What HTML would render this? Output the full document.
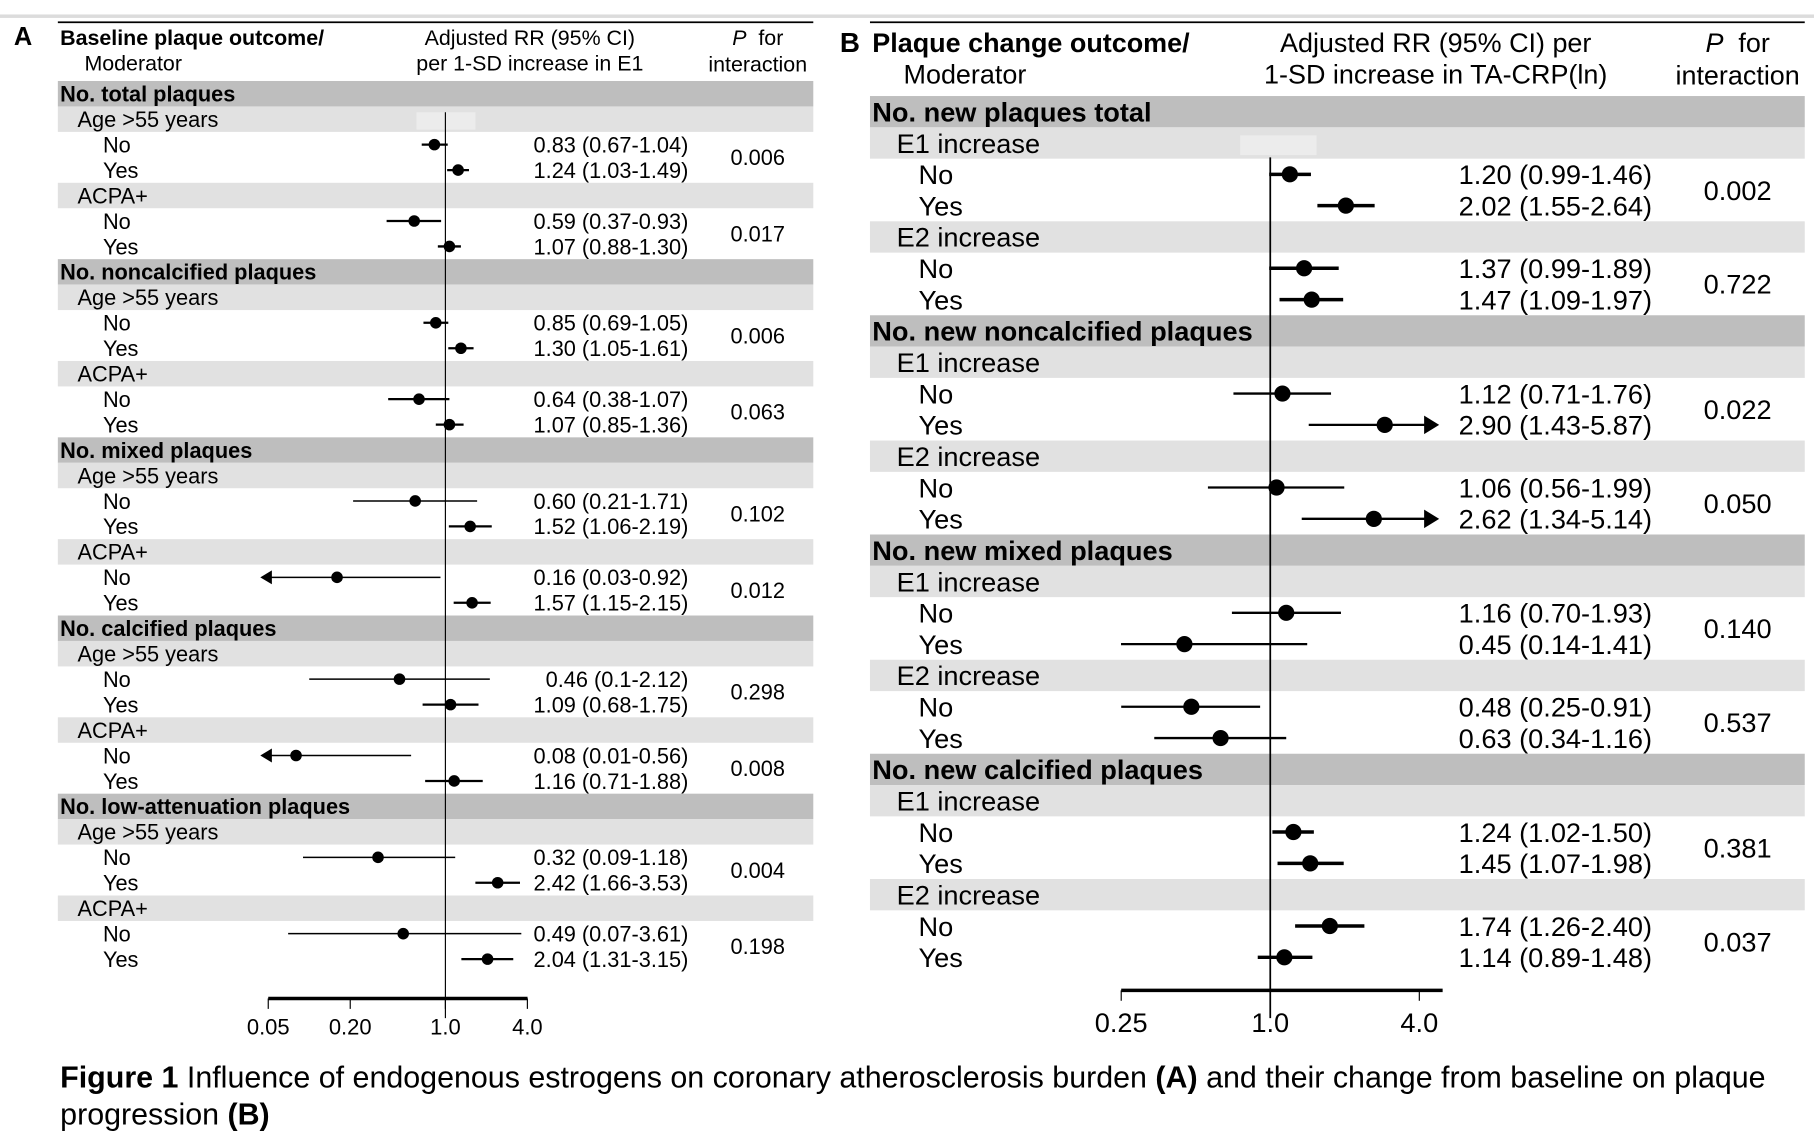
<!DOCTYPE html>
<html><head><meta charset="utf-8">
<style>
html,body{margin:0;padding:0;background:#fff;width:1814px;height:1138px;overflow:hidden}
svg{display:block}
text{font-family:"Liberation Sans",Arial,sans-serif;fill:#000}
</style></head>
<body>
<svg id="fig" width="1814" height="1138" viewBox="0 0 1568 983.6" preserveAspectRatio="none" xmlns="http://www.w3.org/2000/svg">
<rect x="0" y="12.5" width="1568" height="3" fill="#dcdcdc"/>
<g id="panelA"></g>
<g id="panelB"></g>
<text x="52" y="940" font-size="26.3"><tspan font-weight="bold">Figure 1</tspan> Influence of endogenous estrogens on coronary atherosclerosis burden <tspan font-weight="bold">(A)</tspan> and their change from baseline on plaque</text>
<text x="52" y="972" font-size="26.3">progression <tspan font-weight="bold">(B)</tspan></text>
</svg>
<script>
// ---- Panel A data ----
const sectionsA = ["No. total plaques","No. noncalcified plaques","No. mixed plaques","No. calcified plaques","No. low-attenuation plaques"];
const moderatorsA = ["Age >55 years","ACPA+"];
const estA = [0.83,1.24,0.59,1.07, 0.85,1.30,0.64,1.07, 0.60,1.52,0.16,1.57, 0.46,1.09,0.08,1.16, 0.32,2.42,0.49,2.04];
const loA  = [0.67,1.03,0.37,0.88, 0.69,1.05,0.38,0.85, 0.21,1.06,0.03,1.15, 0.10,0.68,0.01,0.71, 0.09,1.66,0.07,1.31];
const hiA  = [1.04,1.49,0.93,1.30, 1.05,1.61,1.07,1.36, 1.71,2.19,0.92,2.15, 2.12,1.75,0.56,1.88, 1.18,3.53,3.61,3.15];
const labelsA = ["0.83 (0.67-1.04)","1.24 (1.03-1.49)","0.59 (0.37-0.93)","1.07 (0.88-1.30)","0.85 (0.69-1.05)","1.30 (1.05-1.61)","0.64 (0.38-1.07)","1.07 (0.85-1.36)","0.60 (0.21-1.71)","1.52 (1.06-2.19)","0.16 (0.03-0.92)","1.57 (1.15-2.15)","0.46 (0.1-2.12)","1.09 (0.68-1.75)","0.08 (0.01-0.56)","1.16 (0.71-1.88)","0.32 (0.09-1.18)","2.42 (1.66-3.53)","0.49 (0.07-3.61)","2.04 (1.31-3.15)"];
const pA = ["0.006","0.017","0.006","0.063","0.102","0.012","0.298","0.008","0.004","0.198"];
const ticksA = [0.05,0.20,1.0,4.0];
const tickLabelsA = ["0.05","0.20","1.0","4.0"];
// ---- Panel B data ----
const sectionsB = ["No. new plaques total","No. new noncalcified plaques","No. new mixed plaques","No. new calcified plaques"];
const moderatorsB = ["E1 increase","E2 increase"];
const estB = [1.20,2.02,1.37,1.47, 1.12,2.90,1.06,2.62, 1.16,0.45,0.48,0.63, 1.24,1.45,1.74,1.14];
const loB  = [0.99,1.55,0.99,1.09, 0.71,1.43,0.56,1.34, 0.70,0.14,0.25,0.34, 1.02,1.07,1.26,0.89];
const hiB  = [1.46,2.64,1.89,1.97, 1.76,5.87,1.99,5.14, 1.93,1.41,0.91,1.16, 1.50,1.98,2.40,1.48];
const labelsB = ["1.20 (0.99-1.46)","2.02 (1.55-2.64)","1.37 (0.99-1.89)","1.47 (1.09-1.97)","1.12 (0.71-1.76)","2.90 (1.43-5.87)","1.06 (0.56-1.99)","2.62 (1.34-5.14)","1.16 (0.70-1.93)","0.45 (0.14-1.41)","0.48 (0.25-0.91)","0.63 (0.34-1.16)","1.24 (1.02-1.50)","1.45 (1.07-1.98)","1.74 (1.26-2.40)","1.14 (0.89-1.48)"];
const pB = ["0.002","0.722","0.022","0.050","0.140","0.537","0.381","0.037"];
const ticksB = [0.25,1.0,4.0];
const tickLabelsB = ["0.25","1.0","4.0"];

const NS="http://www.w3.org/2000/svg";
function mk(parent,tag,attrs,txt){const e=document.createElementNS(NS,tag);for(const k in attrs)e.setAttribute(k,attrs[k]);if(txt!==undefined)e.textContent=txt;parent.appendChild(e);return e;}

function drawPanel(g,cfg){
  const x=v=>cfg.x0+Math.log10(v)*cfg.ppd;
  const fs=cfg.fs, hfs=cfg.hfs;
  let t=mk(g,'text',{x:cfg.letterX,y:cfg.hy1,'font-size':cfg.lfs,'font-weight':'bold'},cfg.letter);
  
  
  let r=mk(g,'rect',{x:cfg.left,y:cfg.topLine,width:cfg.right-cfg.left,height:1.5,fill:'#000'});
  
  
  t=mk(g,'text',{x:cfg.left+2,y:cfg.hy1,'font-size':hfs,'font-weight':'bold'},cfg.h1);
  
  
  t=mk(g,'text',{x:cfg.modX,y:cfg.hy2,'font-size':hfs},'Moderator');
  
  
  t=mk(g,'text',{x:cfg.rrHX,y:cfg.hy1,'font-size':hfs,'text-anchor':'middle'},cfg.rr1);
  
  
  t=mk(g,'text',{x:cfg.rrHX,y:cfg.hy2,'font-size':hfs,'text-anchor':'middle'},cfg.rr2);
  
  
  t=mk(g,'text',{x:cfg.pX,y:cfg.hy1,'font-size':hfs,'text-anchor':'middle'});
  
  
  mk(t,'tspan',{'font-style':'italic'},'P');mk(t,'tspan',{},'\u00a0 for');
  t=mk(g,'text',{x:cfg.pX,y:cfg.hy2+1,'font-size':hfs,'text-anchor':'middle'},'interaction');
  
  
  const u=cfg.u;
  cfg.sections.forEach((s,si)=>{
    const top=cfg.top+si*7*u;
    let b=mk(g,'rect',{x:cfg.left,y:top,width:cfg.right-cfg.left,height:u,fill:'#bebebe'});
    
    
    let st=mk(g,'text',{x:cfg.left+2,y:top+u/2+fs*0.36,'font-size':fs,'font-weight':'bold'},s);
    
    
    cfg.mods.forEach((m,mi)=>{
      const mt=top+(1+mi*3)*u;
      let mb=mk(g,'rect',{x:cfg.left,y:mt,width:cfg.right-cfg.left,height:u,fill:'#e1e1e1'});
      
      
      let mtx=mk(g,'text',{x:cfg.modX-6,y:mt+u/2+fs*0.36,'font-size':fs},m);
      
      
      ['No','Yes'].forEach((lab,li)=>{
        const cy=mt+(1.5+li)*u;
        let lt=mk(g,'text',{x:cfg.rowX,y:cy+fs*0.36,'font-size':fs},lab);
        
        
      });
    });
  });
  let fb=mk(g,'rect',Object.assign({fill:'#ececec'},cfg.faint));
  
  
  let rl=mk(g,'line',{x1:x(1),x2:x(1),y1:cfg.refY1,y2:cfg.refY2,stroke:'#000','stroke-width':cfg.refW});
  
  
  cfg.est.forEach((e,i)=>{
    const si=Math.floor(i/4), k=i%4, mi=Math.floor(k/2), li=k%2;
    const cy=cfg.top+si*7*u+(1+mi*3)*u+(1.5+li)*u;
    let x1=x(cfg.lo[i]), x2=x(cfg.hi[i]);
    let arrowL=false, arrowR=false;
    if(x1<cfg.clipL){x1=cfg.clipL;arrowL=cfg.arrowLow;}
    if(x2>cfg.clipR){x2=cfg.clipR;arrowR=true;}
    const wide=(x2-x1)>70;
    let ln=mk(g,'line',{x1:x1,x2:x2,y1:cy,y2:cy,stroke:'#000','stroke-width':wide?cfg.lw:cfg.lw*1.5});
    
    
    if(arrowL){let a=mk(g,'path',{d:`M${x1-4} ${cy} l10 -6 v12 z`,fill:'#000'});
      
      }
    if(arrowR){let a=mk(g,'path',{d:`M${x2+4} ${cy} l-13 -8 v16 z`,fill:'#000'});
      
      }
    let c=mk(g,'circle',{cx:x(e),cy:cy,r:cfg.pr,fill:'#000'});
    
    
    let lt=mk(g,'text',{x:cfg.valX,y:cy+fs*0.36,'font-size':fs,'text-anchor':'end'},cfg.labels[i]);
    
    
    if(li===0){
      let pt=mk(g,'text',{x:cfg.pX,y:cy+u/2+fs*0.36,'font-size':fs,'text-anchor':'middle'},cfg.p[Math.floor(i/2)]);
      
      
    }
  });
  let ax=mk(g,'line',{x1:x(cfg.ticks[0]),x2:cfg.axisEnd,y1:cfg.axY,y2:cfg.axY,stroke:'#000','stroke-width':3});
  
  
  cfg.ticks.forEach((tv,ti)=>{
    let tk=mk(g,'line',{x1:x(tv),x2:x(tv),y1:cfg.axY,y2:cfg.axY+9,stroke:'#000','stroke-width':1});
    
    
    let tl=mk(g,'text',{x:x(tv),y:cfg.tickLabY,'font-size':cfg.tfs,'text-anchor':'middle'},cfg.tickLabels[ti]);
    
    
  });
}

drawPanel(document.getElementById('panelA'),{
  letter:'A',letterX:12,hy1:39,hy2:61,topLine:18.5,left:50,right:703,lfs:22,
  h1:'Baseline plaque outcome/',rr1:'Adjusted RR (95% CI)',rr2:'per 1-SD increase in E1',
  rrHX:458,pX:655,modX:73,rowX:89,valX:595,fs:18.8,hfs:18.5,tfs:19,u:22,top:70,
  sections:sectionsA,mods:moderatorsA,est:estA,lo:loA,hi:hiA,labels:labelsA,p:pA,
  x0:385,ppd:117.7,clipL:229,clipR:470,arrowLow:true,lw:1.3,pr:5,refW:1,
  refY1:97,refY2:880,faint:{x:360,y:97,width:51,height:15},
  ticks:ticksA,tickLabels:tickLabelsA,axisEnd:456,axY:863,tickLabY:894
});
drawPanel(document.getElementById('panelB'),{
  letter:'B',letterX:726,hy1:45,hy2:72,topLine:18.5,left:752,right:1560,lfs:24,
  h1:'Plaque change outcome/',rr1:'Adjusted RR (95% CI) per',rr2:'1-SD increase in TA-CRP(ln)',
  rrHX:1241,pX:1502,modX:781,rowX:794,valX:1428,fs:23.5,hfs:23.3,tfs:23.5,u:27.07,top:83,
  sections:sectionsB,mods:moderatorsB,est:estB,lo:loB,hi:hiB,labels:labelsB,p:pB,
  x0:1098,ppd:214,clipL:969,clipR:1240,arrowLow:false,lw:2,pr:7,refW:1.5,
  refY1:136,refY2:880,faint:{x:1072,y:117,width:66,height:17},
  ticks:ticksB,tickLabels:tickLabelsB,axisEnd:1247,axY:856,tickLabY:892
});
</script>
</body></html>
